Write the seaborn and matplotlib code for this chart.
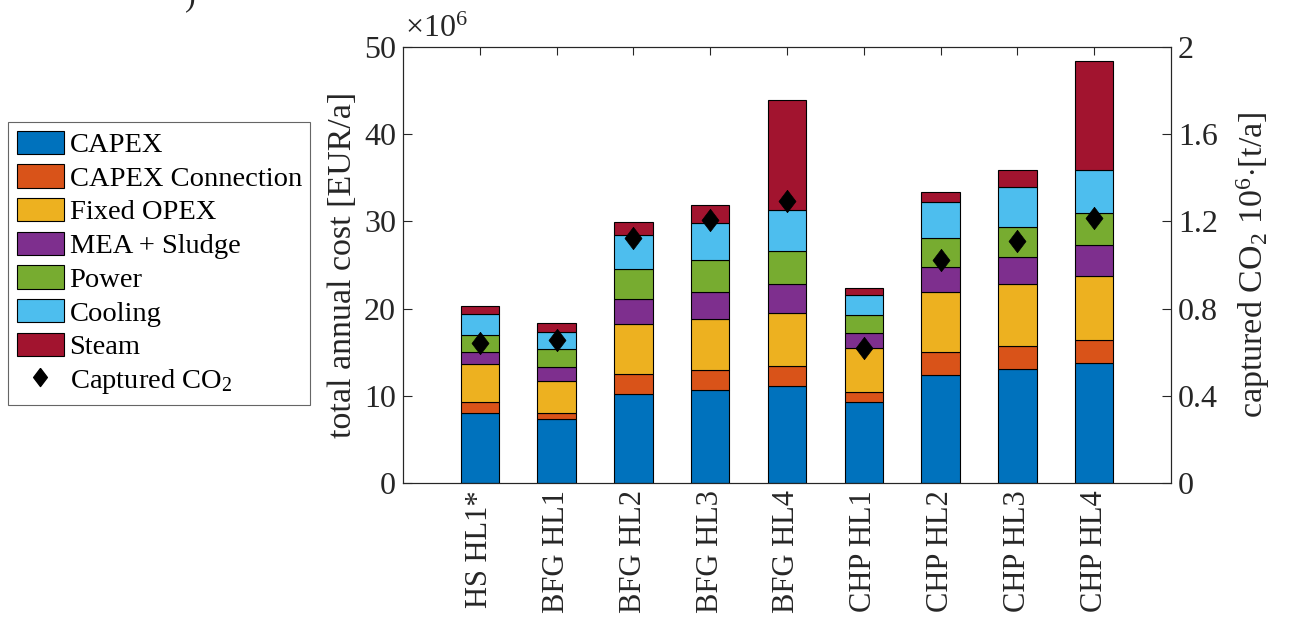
import numpy as np
import matplotlib
matplotlib.use('Agg')
import matplotlib.pyplot as plt
from matplotlib.patches import Patch
from matplotlib.lines import Line2D
import seaborn as sns

sns.set_theme(style='white')
plt.rcParams['font.family'] = ['Liberation Serif', 'DejaVu Serif']
plt.rcParams['mathtext.fontset'] = 'custom'
plt.rcParams['mathtext.rm'] = 'Liberation Serif'
plt.rcParams['mathtext.it'] = 'Liberation Serif:italic'
plt.rcParams['mathtext.bf'] = 'Liberation Serif:bold'

# Fälle
cases = ['HS HL1*', 'BFG HL1', 'BFG HL2', 'BFG HL3', 'BFG HL4',
         'CHP HL1', 'CHP HL2', 'CHP HL3', 'CHP HL4']

# Kostenanteile in Mio. EUR/a
capex      = [8.07, 7.30, 10.17, 10.63, 11.09, 9.33, 12.39, 13.04, 13.76]
capex_conn = [1.26, 0.69, 2.30, 2.29, 2.29, 1.11, 2.67, 2.67, 2.64]
fixed_opex = [4.27, 3.71, 5.73, 5.92, 6.15, 5.00, 6.81, 7.07, 7.37]
mea_sludge = [1.39, 1.64, 2.90, 3.06, 3.25, 1.80, 2.93, 3.14, 3.49]
power      = [1.98, 1.99, 3.40, 3.64, 3.86, 1.99, 3.26, 3.44, 3.67]
cooling    = [2.38, 1.95, 3.90, 4.24, 4.70, 2.29, 4.16, 4.58, 5.00]
steam      = [0.91, 1.07, 1.57, 2.07, 12.58, 0.88, 1.15, 1.92, 12.43]

# abgeschiedenes CO2 in 10^6 t/a
co2 = [0.644, 0.657, 1.125, 1.205, 1.292, 0.621, 1.024, 1.111, 1.217]

parts = [capex, capex_conn, fixed_opex, mea_sludge, power, cooling, steam]
part_names = ['CAPEX', 'CAPEX Connection', 'Fixed OPEX', 'MEA + Sludge',
              'Power', 'Cooling', 'Steam']
colors = ['#0072BD', '#D95319', '#EDB120', '#7E2F8E', '#77AC30', '#4DBEEE', '#A2142F']

fs_tick = 23
fs_xtick = 22
fs_lab = 24.5
fs_leg = 20.5
axcol = '#262626'
diamond = [(0, 1), (0.76, 0), (0, -1), (-0.76, 0), (0, 1)]

fig = plt.figure(figsize=(12.94, 6.19), dpi=100)
ax = fig.add_axes([403 / 1294, (619 - 483) / 619, (1171 - 403) / 1294, (483 - 47) / 619])
ax2 = ax.twinx()

x = np.arange(1, len(cases) + 1)
bottom = np.zeros(len(cases))
for vals, name, c in zip(parts, part_names, colors):
    ax.bar(x, vals, width=0.5, bottom=bottom, color=c, edgecolor='black',
           linewidth=0.8, label=name)
    bottom += np.array(vals)

sns.scatterplot(x=x, y=co2, ax=ax2, marker=diamond, s=260, color='black',
                edgecolor='black', linewidth=0.5, legend=False, zorder=5)

ax.set_xlim(0, 10)
ax.set_ylim(0, 50)
ax2.set_ylim(0, 2)
ax.set_xticks(x)
ax.set_xticklabels(cases, rotation=90, fontsize=fs_xtick, color=axcol)
ax.set_yticks([0, 10, 20, 30, 40, 50])
ax.set_yticklabels(['0', '10', '20', '30', '40', '50'], fontsize=fs_tick, color=axcol)
ax2.set_yticks([0, 0.4, 0.8, 1.2, 1.6, 2.0])
ax2.set_yticklabels(['0', '0.4', '0.8', '1.2', '1.6', '2'], fontsize=fs_tick, color=axcol)

ax.tick_params(axis='x', direction='in', length=6, width=0.8, top=True, bottom=True,
               color=axcol, pad=5)
ax.tick_params(axis='y', direction='in', length=6.5, width=0.8, left=True, right=False,
               color=axcol, pad=5)
ax2.tick_params(axis='y', direction='in', length=6.5, width=0.8, right=True, left=False,
                color=axcol, pad=5)

for a in (ax, ax2):
    for sp in a.spines.values():
        sp.set_color(axcol)
        sp.set_linewidth(0.8)
        sp.set_visible(True)
ax2.grid(False)
ax.grid(False)

ax.set_ylabel('total annual cost [EUR/a]', fontsize=fs_lab, color=axcol, labelpad=4)
ax2.set_ylabel(r'captured CO$_2$ 10$^6$$\cdot$[t/a]', fontsize=fs_lab, color=axcol,
               labelpad=12)
ax.text(0.003, 1.008, r'$\times10^6$', transform=ax.transAxes, fontsize=fs_tick,
        color=axcol, ha='left', va='bottom')

fig.text(190 / 1294, 1 - 5 / 619, ')', fontsize=fs_tick, color=axcol, ha='center',
         va='baseline')

handles = [Patch(facecolor=c, edgecolor='black', linewidth=0.8) for c in colors]
handles.append(Line2D([], [], marker=diamond, color='black', linestyle='none',
                      markersize=13))
labels = part_names + [r'Captured CO$_2$']
leg = fig.legend(handles, labels, loc='upper left',
                 bbox_to_anchor=(8 / 1294, 1 - 122 / 619),
                 bbox_transform=fig.transFigure, fontsize=fs_leg, frameon=True,
                 fancybox=False, framealpha=1, edgecolor='#666666',
                 borderaxespad=0, borderpad=0.3, handlelength=1.68,
                 handleheight=0.88, labelspacing=0.22, handletextpad=0.18)
leg.get_frame().set_linewidth(0.8)
for t in leg.get_texts():
    t.set_color('black')

fig.savefig('out.png', dpi=100)
